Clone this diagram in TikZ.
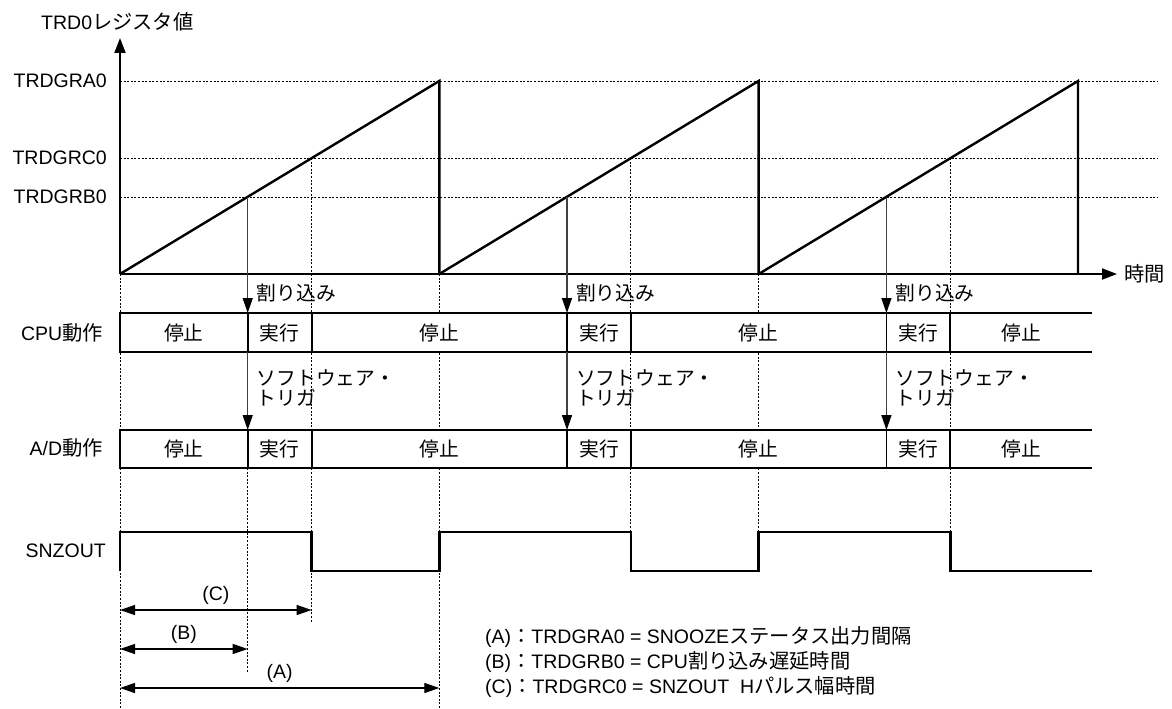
\documentclass[tikz,border=0pt]{standalone}
\usepackage{fontspec}
\setmainfont{Liberation Sans}
\newfontfamily\jp[Scale=1.04]{Noto Sans CJK JP}
\usetikzlibrary{arrows.meta}

\begin{document}
\begin{tikzpicture}[x=1pt,y=-1pt,
    every node/.style={inner sep=0pt},
    font=\fontsize{19.5}{23}\selectfont,
    guide/.style={dash pattern=on 2pt off 1.6pt,line width=0.9pt},
    ramp/.style={line width=2.4pt},
    rowline/.style={line width=1.8pt},
    axis/.style={line width=1.8pt,-{Triangle[length=15pt,width=11pt]}},
    trig/.style={line width=1.4pt,black!75,-{Triangle[length=15pt,width=10pt,color=black]}},
    dim/.style={line width=1.3pt,{Triangle[length=15pt,width=10pt]}-{Triangle[length=15pt,width=10pt]}},
    phase/.style={font=\jp\fontsize{19}{20}\selectfont}
]
\useasboundingbox (0,0) rectangle (1172,709);

\coordinate (O)    at (120,274);
\coordinate (ytip) at (120,38);
\coordinate (xtip) at (1117,274);
\coordinate (cpuT) at (0,313);
\coordinate (cpuB) at (0,352);
\coordinate (adT)  at (0,430);
\coordinate (adB)  at (0,468);
\coordinate (hi)   at (0,532);
\coordinate (lo)   at (0,571);

\node[anchor=west] (ylab) at (41,22)   {TRD0{\jp レジスタ値}};
\node[anchor=west] (tlab) at (1124,274) {\jp 時間};
\node[anchor=east] (GA)   at (107,81)  {TRDGRA0};
\node[anchor=east] (GC)   at (107,158) {TRDGRC0};
\node[anchor=east] (GB)   at (107,197) {TRDGRB0};
\node[anchor=east] (cpu)  at (103,333) {CPU{\jp 動作}};
\node[anchor=east] (ad)   at (103,448) {A/D{\jp 動作}};
\node[anchor=east] (snz)  at (106,551) {SNZOUT};

\foreach \y in {81,158,197}
  \draw[guide] (120,\y) -- (1157,\y);

\foreach \s [count=\i] in {120,439.3,758.7} {
  \coordinate (S\i) at (\s,274);
  \coordinate (P\i) at (\s+319.3,81);
  \coordinate (B\i) at (\s+127.7,197);
  \coordinate (C\i) at (\s+191.6,158);
  \draw[guide] (C\i) -- (C\i |- O);
}

\draw[guide] (O) -- (120,709);
\draw[guide] (P1 |- O) -- (P1 |- 0,709);
\draw[guide] (C1 |- O) -- (C1 |- 0,623);
\draw[guide] (B1 |- adB) -- (B1 |- 0,673);
\draw[guide] (C2 |- O) -- (C2 |- hi);
\draw[guide] (P2 |- O) -- (P2 |- hi);
\draw[guide] (C3 |- O) -- (C3 |- hi);

\foreach \i in {1,2,3}
  \draw[ramp] (S\i) -- (P\i) -- (P\i |- O);

\draw[axis] (O) -- (ytip);
\draw[axis] (O) -- (xtip);

\draw[rowline,fill=white] (1092,313) -- (cpuT -| O) -- (cpuB -| O) -- (1092,352);
\draw[rowline,fill=white] (1092,430) -- (adT -| O) -- (adB -| O) -- (1092,468);
\foreach \n in {B1,C1,B2,C2,B3,C3} {
  \draw[rowline] (\n |- cpuT) -- (\n |- cpuB);
  \draw[rowline] (\n |- adT) -- (\n |- adB);
}

\foreach \x/\t [count=\i] in {183.9/停止,279.7/実行,439.3/停止,599/実行,758.7/停止,918.4/実行,1021/停止} {
  \node[phase] (cpuS\i) at (\x,333) {\t};
  \node[phase] (adS\i)  at (\x,449) {\t};
}

\foreach \i in {1,2,3} {
  \draw[trig] (B\i) -- (B\i |- cpuT);
  \draw[trig] (B\i |- cpuB) -- (B\i |- adT);
  \node[phase,anchor=west] (irq\i) at ([xshift=9pt]B\i |- 0,293) {割り込み};
  \node[phase,anchor=north west,align=left] (sw\i) at ([xshift=9pt]B\i |- 0,369) {ソフトウェア・\\トリガ};
}

\draw[ramp] (O |- lo) -- (O |- hi) -- (C1 |- hi) -- (C1 |- lo) -- (P1 |- lo) -- (P1 |- hi)
  -- (C2 |- hi) -- (C2 |- lo) -- (P2 |- lo) -- (P2 |- hi) -- (C3 |- hi) -- (C3 |- lo) -- (1092,571);

\coordinate (dC0) at (120,610);
\coordinate (dB0) at (120,649);
\coordinate (dA0) at (120,688);
\draw[dim] (dC0) -- (C1 |- dC0) node[midway,yshift=15pt] (dimC) {(C)};
\draw[dim] (dB0) -- (B1 |- dB0) node[midway,yshift=15pt] (dimB) {(B)};
\draw[dim] (dA0) -- (P1 |- dA0) node[midway,yshift=15pt] (dimA) {(A)};

\node[anchor=west] (legA) at (485,637) {(A){\jp ：}TRDGRA0 = SNOOZE{\jp ステータス出力間隔}};
\node[anchor=west] (legB) at (485,662) {(B){\jp ：}TRDGRB0 = CPU{\jp 割り込み遅延時間}};
\node[anchor=west] (legC) at (485,687) {(C){\jp ：}TRDGRC0 = SNZOUT\ \ H{\jp パルス幅時間}};
\end{tikzpicture}
\end{document}
